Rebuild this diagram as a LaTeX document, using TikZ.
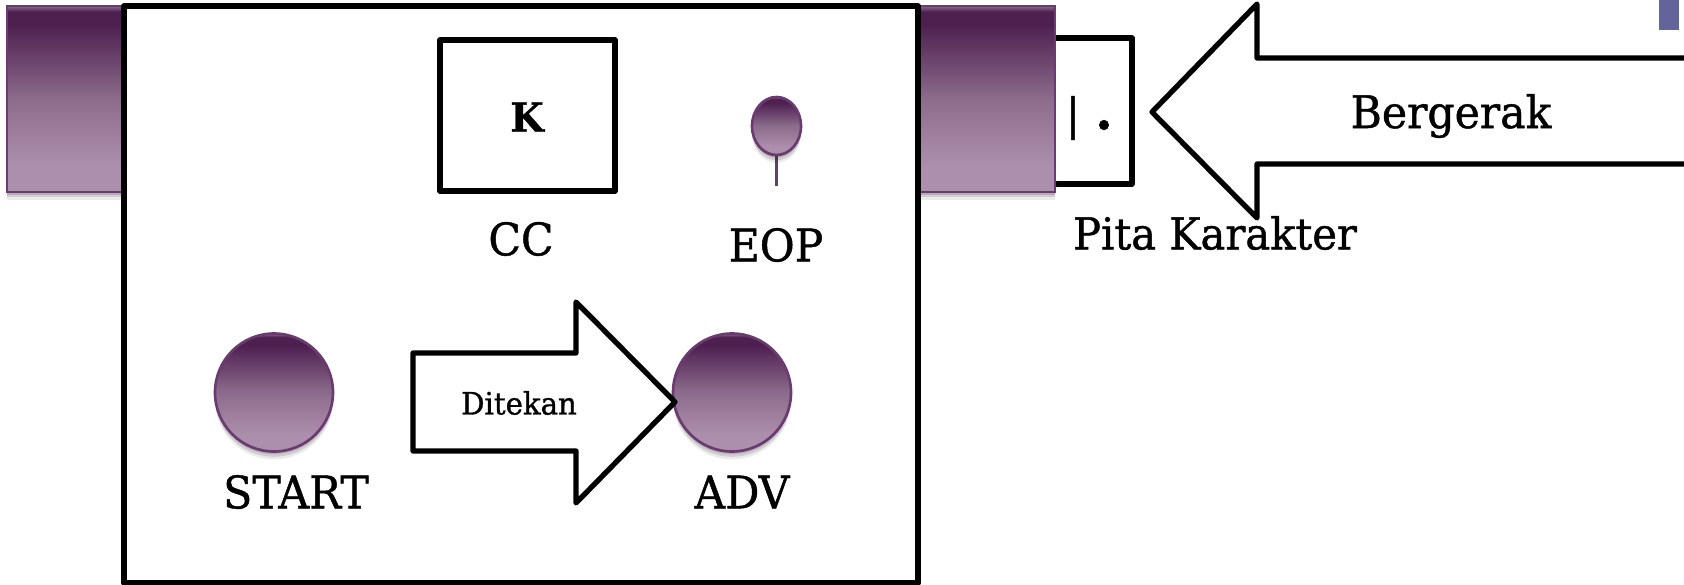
\documentclass[tikz,border=0pt]{standalone}
\usepackage{fontspec}
\usepackage{xcolor}
\usepackage{tikz}
\usetikzlibrary{shadows}
\setmainfont{DejaVu Serif}[FakeStretch=0.95,FakeBold=1]
\definecolor{plumdark}{HTML}{4E2050}
\definecolor{plummid}{HTML}{8C6C8C}
\definecolor{plumlight}{HTML}{AC8FAC}
\definecolor{plumline}{HTML}{6B3A70}
\definecolor{cornerblue}{HTML}{63659A}
\pgfdeclareverticalshading{plumfill}{100bp}{color(0bp)=(plumlight); color(32bp)=(plumlight);
  color(50bp)=(plummid); color(70bp)=(plumdark); color(73.5bp)=(plumdark); color(75bp)=(plummid); color(100bp)=(plummid)}
\tikzset{
  plumshade/.style={shade, shading=plumfill, draw=plumline, line width=1.5pt,
    drop shadow={shadow xshift=0pt, shadow yshift=-1.5pt, opacity=.14, fill=black},
    drop shadow={shadow xshift=0pt, shadow yshift=-3pt, opacity=.12, fill=black},
    drop shadow={shadow xshift=0pt, shadow yshift=-4.5pt, opacity=.08, fill=black}},
  blackline/.style={draw=black, line width=3pt, line join=round},
  biglabel/.style={font=\fontsize{25.5}{30}\selectfont, inner sep=0pt},
}

\begin{document}
\begin{tikzpicture}[x=0.02cm, y=-0.02cm]
  \useasboundingbox (0,0) rectangle (1684,585);
  \fill[white] (0,0) rectangle (1684,585);
  \fill[cornerblue] (1659,0) rectangle (1679,30);
  % tape and carriage
  \draw[blackline, fill=white] (1000,38) rectangle (1132,184);
  \foreach \xa/\xb in {7/200, 800/1055}
    \path[plumshade] (\xa,6) rectangle (\xb,192);
  \draw[blackline, fill=white] (124,6) rectangle (918,583);
  \node[font=\fontsize{25}{30}\selectfont, inner sep=0pt] (tapebar) at (1073,118) {|};
  \node[font=\bfseries\fontsize{30}{30}\selectfont, inner sep=0pt] (tapedot) at (1104,125) {.};
  % moving arrow
  \draw[blackline, fill=white] (1152,112) -- (1257,4) -- (1257,58) -- (1700,58)
    -- (1700,164) -- (1257,164) -- (1257,218) -- cycle;
  \node[biglabel] (moving) at (1451,116) {Bergerak};
  \node[font=\fontsize{25}{30}\selectfont, inner sep=0pt] (tape) at (1215,233) {Pita Karakter};
  % inside the box
  \draw[blackline, fill=white] (440,40) rectangle (615,191);
  \node[font=\bfseries\fontsize{23}{30}\selectfont, inner sep=0pt] (char) at (527,117) {K};
  \node[biglabel] (cc) at (521,239) {CC};
  \draw[plumline, line width=2pt] (776.5,155) -- (776.5,186);
  \path[plumshade] (776.5,126) ellipse (24.5 and 29);
  \node[biglabel] (eop) at (776,245) {EOP};
  \foreach \cx/\nm/\lx/\txt in {274/start/296/START, 732/adv/742/ADV} {
    \path[plumshade] (\cx,392.5) circle (59);
    \node[biglabel] (\nm) at (\lx,492) {\txt};
  }
  % pressed arrow
  \draw[blackline, fill=white] (413,353) -- (576,353) -- (576,302) -- (675,402)
    -- (576,503) -- (576,451) -- (413,451) -- cycle;
  \node[font=\fontsize{17.5}{20}\selectfont, inner sep=0pt] (pressed) at (519,403) {Ditekan};
\end{tikzpicture}
\end{document}
